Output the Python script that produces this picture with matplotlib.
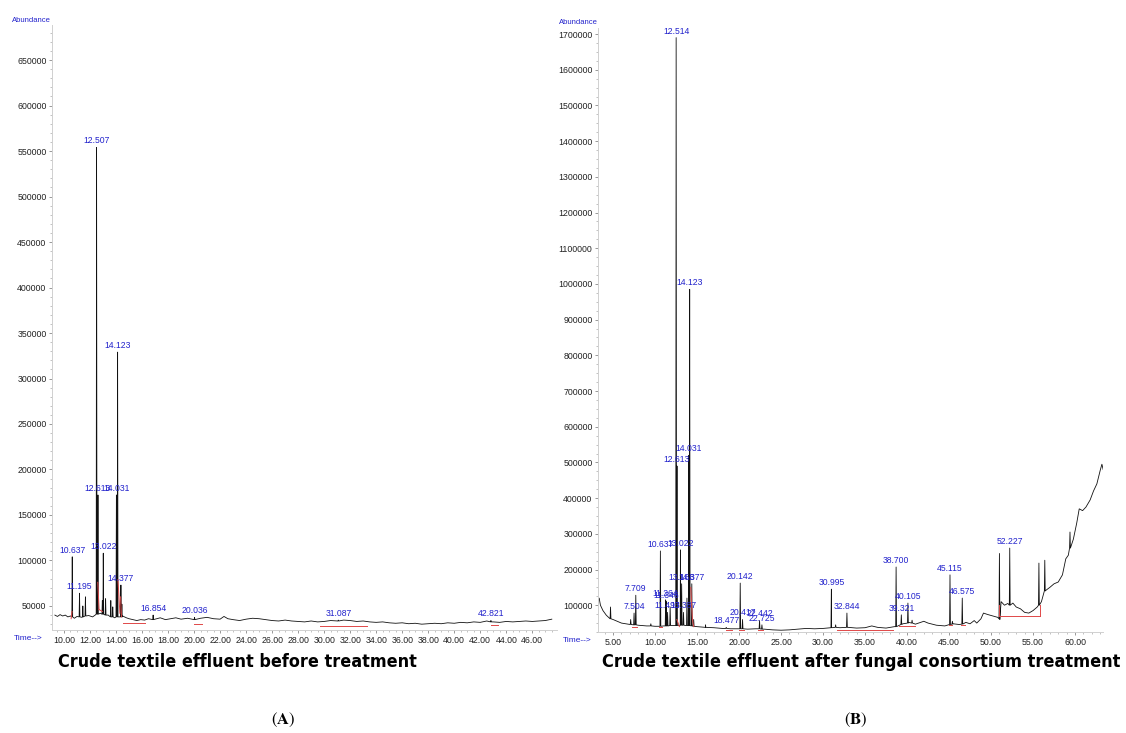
import numpy as np
import matplotlib
matplotlib.use("Agg")
import matplotlib.pyplot as plt
from matplotlib.ticker import MultipleLocator, FormatStrFormatter

plt.rcParams['font.family'] = ['Liberation Sans', 'DejaVu Sans']
plt.rcParams['mathtext.fontset'] = 'stix'

W, H = 1126, 733
BLUE = '#2222cc'
RED = '#e04848'

# ---------------- panel A: before treatment ----------------
a_base_t = [9.3, 9.5, 9.7, 9.9, 10.1, 10.3, 10.5, 10.8, 11.0, 11.4, 11.9, 12.2, 12.4,
            12.8, 13.0, 13.4, 13.7, 13.9, 14.5, 14.8, 15.0, 15.3, 15.6, 15.9, 16.2,
            16.5, 17.0, 17.4, 17.8, 18.2, 18.6, 19.0, 19.5, 20.0, 20.5, 21.0, 21.5,
            22.0, 22.3, 22.6, 23.0, 23.5, 24.0, 24.5, 25.0, 25.5, 26.0, 26.5, 27.0,
            27.5, 28.0, 28.5, 29.0, 29.5, 30.0, 30.5, 31.0, 31.5, 32.0, 32.5, 33.0,
            33.5, 34.0, 34.5, 35.0, 35.5, 36.0, 36.5, 37.0, 37.5, 38.0, 38.5, 39.0,
            39.5, 40.0, 40.5, 41.0, 41.5, 42.0, 42.5, 43.0, 43.5, 44.0, 44.5, 45.0,
            45.5, 46.0, 46.5, 47.0, 47.5]
a_base_v = [40000, 38500, 40500, 39000, 40000, 38000, 39000, 36500, 38500, 37500, 39500,
            38000, 40000, 42000, 41000, 40000, 38000, 37000, 39000, 37000, 36000, 35000,
            34000, 35000, 34500, 36000, 35500, 37000, 35000, 36000, 37000, 35500, 36500,
            35000, 36500, 37500, 36000, 35500, 38500, 36000, 35000, 34000, 35500, 36500,
            36000, 35000, 34000, 33500, 34500, 33500, 33000, 32500, 33500, 32500, 33000,
            34000, 33500, 34500, 34000, 33000, 33500, 32500, 32000, 32500, 31500, 31000,
            31500, 30500, 31000, 30000, 30500, 31000, 30500, 31500, 31000, 32000, 31500,
            32500, 32000, 33500, 32500, 32000, 33000, 32500, 33000, 33500, 33000, 33500,
            34000, 35500]
a_peak_t = [10.637, 11.195, 11.45, 11.65, 12.507, 12.613, 12.95, 13.022, 13.2, 13.6,
            13.75, 14.031, 14.123, 14.377, 14.45, 16.854, 20.036, 31.087, 42.821]
a_peak_h = [104000, 64000, 50000, 60000, 554000, 172000, 56000, 108000, 58000, 56000,
            49000, 172000, 329000, 73000, 52000, 40000, 37500, 34500, 34000]
a_peak_b = [38000, 38000, 38000, 39000, 41000, 41000, 41000, 41000, 40000, 38000,
            38000, 38000, 38000, 38000, 38000, 35000, 35000, 33500, 32500]
a_labels = ['10.637', '11.195', '', '', '12.507', '12.613', '', '13.022', '', '',
            '', '14.031', '14.123', '14.377', '', '16.854', '20.036', '31.087', '42.821']
a_red = [(10.55, 36000, 10.62, 44000), (12.6, 76000, 12.7, 46000), (12.7, 46000, 12.95, 44000),
         (14.15, 79000, 14.3, 42000), (14.35, 60000, 14.42, 38000),
         (14.5, 31000, 16.2, 31000), (20.0, 30000, 20.6, 30000),
         (29.7, 27500, 33.3, 27500), (42.8, 29500, 43.4, 29500)]

# ---------------- panel B: after fungal treatment ----------------
b_base_t = [3.25, 3.35, 3.5, 3.8, 4.2, 4.6, 5.0, 5.5, 6.0, 6.5, 7.0, 8.0, 9.0, 10.0,
            11.0, 12.0, 13.0, 14.0, 15.0, 16.0, 17.0, 18.0, 19.0, 20.0, 21.0, 22.0,
            23.0, 24.0, 25.0, 26.0, 27.0, 28.0, 29.0, 30.0, 31.0, 32.0, 33.0, 34.0,
            35.0, 35.8, 36.5, 37.5, 38.5, 39.5, 40.2, 41.0, 42.0, 42.5, 43.5, 44.5,
            45.5, 46.2, 47.0, 47.5, 48.0, 48.3, 48.8, 49.1, 49.6, 50.2, 50.8, 51.05,
            51.2, 51.6, 52.0, 52.6, 53.0, 53.5, 54.0, 54.5, 55.0, 55.5, 56.0, 56.6,
            57.0, 57.5, 58.0, 58.5, 58.9, 59.2, 59.8, 60.2, 60.5, 60.9, 61.3, 61.8,
            62.2, 62.6, 63.0, 63.2, 63.35]
b_base_v = [115000, 120000, 100000, 85000, 72000, 63000, 60000, 55000, 50000, 48000,
            46000, 44000, 42000, 41000, 42000, 43000, 44000, 43000, 40000, 38000, 37000,
            35000, 34000, 34000, 33000, 34000, 33000, 31000, 30000, 31000, 33000, 35000,
            34000, 35000, 38000, 37000, 38000, 36000, 37000, 42000, 38000, 36000, 40000,
            48000, 52000, 47000, 55000, 50000, 44000, 42000, 48000, 46000, 52000, 48000,
            57000, 50000, 62000, 78000, 74000, 70000, 66000, 60000, 110000, 100000,
            105000, 106000, 95000, 90000, 80000, 78000, 85000, 95000, 110000, 143000,
            150000, 160000, 165000, 185000, 230000, 240000, 285000, 330000, 370000,
            365000, 375000, 395000, 420000, 440000, 478000, 495000, 480000]
b_peak_t = [4.7, 7.1, 7.504, 7.709, 9.5, 10.637, 11.264, 11.346, 11.493, 11.8, 12.514,
            12.613, 13.022, 13.168, 13.387, 13.8, 14.031, 14.123, 14.377, 14.6, 16.0,
            18.477, 20.142, 20.417, 22.442, 22.725, 30.995, 31.5, 32.844, 38.700,
            39.321, 40.105, 40.6, 45.115, 45.4, 46.575, 51.0, 52.227, 55.7, 56.4, 59.4]
b_peak_h = [95000, 60000, 78000, 128000, 48000, 252000, 115000, 110000, 80000, 95000,
            1690000, 490000, 255000, 160000, 80000, 120000, 520000, 985000, 160000, 60000,
            45000, 38000, 162000, 60000, 57000, 45000, 145000, 45000, 78000, 207000,
            73000, 106000, 58000, 185000, 55000, 120000, 245000, 260000, 218000, 226000,
            305000]
b_peak_b = [62000, 46000, 45000, 45000, 42000, 41000, 42000, 42000, 42000, 43000, 43000,
            43000, 44000, 44000, 44000, 43000, 43000, 43000, 42000, 41000, 38000, 35000,
            34000, 34000, 34000, 33000, 37000, 38000, 38000, 40000, 46000, 50000, 50000,
            46000, 47000, 47000, 62000, 100000, 100000, 140000, 260000]
b_labels = ['', '', '7.504', '7.709', '', '10.637', '11.264', '11.346', '11.493', '',
            '12.514', '12.613', '13.022', '13.168', '13.387', '', '14.031', '14.123',
            '14.377', '', '', '18.477', '20.142', '20.417', '22.442', '22.725', '30.995',
            '', '32.844', '38.700', '39.321', '40.105', '', '45.115', '', '46.575', '',
            '52.227', '', '', '']
b_red = [(7.3, 40000, 7.9, 40000), (10.5, 38000, 10.8, 38000), (12.6, 60000, 12.9, 40000),
         (14.25, 150000, 14.45, 60000), (14.45, 60000, 14.6, 40000), (18.5, 32000, 19.2, 32000),
         (20.0, 31000, 20.6, 31000), (22.3, 31000, 22.9, 31000), (31.7, 31000, 38.3, 31000),
         (39.0, 42000, 41.0, 42000), (45.0, 44000, 45.3, 44000), (46.4, 45000, 46.9, 45000),
         (51.0, 100000, 51.0, 70000), (51.0, 70000, 55.8, 70000), (55.8, 70000, 55.8, 100000)]


def build_trace(bt, bv, pt, ph, pb, hw):
    t = list(bt)
    v = list(bv)
    for x, h, b in zip(pt, ph, pb):
        t += [x - hw, x, x + hw]
        v += [b, h, b]
    order = np.argsort(t, kind='stable')
    return np.array(t)[order], np.array(v)[order]


def style_axes(ax, xmaj, xmin, ymaj, ymin):
    for s in ['top', 'right']:
        ax.spines[s].set_visible(False)
    for s in ['left', 'bottom']:
        ax.spines[s].set_color('#d0d0d0')
        ax.spines[s].set_linewidth(0.7)
    ax.xaxis.set_major_locator(MultipleLocator(xmaj))
    ax.xaxis.set_minor_locator(MultipleLocator(xmin))
    ax.xaxis.set_major_formatter(FormatStrFormatter('%.2f'))
    ax.yaxis.set_major_locator(MultipleLocator(ymaj))
    ax.yaxis.set_minor_locator(MultipleLocator(ymin))
    ax.yaxis.set_major_formatter(FormatStrFormatter('%d'))
    ax.tick_params(which='major', length=2.5, width=0.6, color='#888888',
                   labelsize=6.3, labelcolor='#222222', pad=1.5)
    ax.tick_params(which='minor', length=1.5, width=0.5, color='#aaaaaa')


def draw_panel(ax, bt, bv, pt, ph, pb, labels, red, hw):
    t, v = build_trace(bt, bv, pt, ph, pb, hw)
    ax.plot(t, v, color='#111111', lw=0.6)
    for x0, y0, x1, y1 in red:
        ax.plot([x0, x1], [y0, y1], color=RED, lw=0.7)
    for x, h, lab in zip(pt, ph, labels):
        if lab:
            ax.annotate(lab, (x, h), xytext=(0, 1.5), textcoords='offset points',
                        ha='center', va='bottom', fontsize=6.2, color=BLUE)


fig = plt.figure(figsize=(W / 100, H / 100), dpi=100)

axA = fig.add_axes([52 / W, 1 - 630 / H, 505 / W, 605 / H])
draw_panel(axA, a_base_t, a_base_v, a_peak_t, a_peak_h, a_peak_b, a_labels, a_red, 0.03)
axA.set_xlim(9.08, 47.9)
axA.set_ylim(23600, 688500)
style_axes(axA, 2, 0.5, 50000, 10000)

axB = fig.add_axes([598 / W, 1 - 632 / H, 505 / W, 604 / H])
draw_panel(axB, b_base_t, b_base_v, b_peak_t, b_peak_h, b_peak_b, b_labels, b_red, 0.05)
axB.set_xlim(3.21, 63.33)
axB.set_ylim(25000, 1717000)
style_axes(axB, 5, 1, 100000, 25000)

# axis captions
fig.text(31 / W, 1 - 20 / H, 'Abundance', fontsize=5.5, color=BLUE, ha='center', va='center')
fig.text(28 / W, 1 - 638 / H, 'Time-->', fontsize=6, color=BLUE, ha='center', va='center')
fig.text(578 / W, 1 - 23 / H, 'Abundance', fontsize=5.5, color=BLUE, ha='center', va='center')
fig.text(577 / W, 1 - 641 / H, 'Time-->', fontsize=6, color=BLUE, ha='center', va='center')

# panel titles: condensed bold look; squeeze the size until the width matches
title_font = ['Liberation Sans Narrow', 'DejaVu Sans']
titles = [(237, 'Crude textile effluent before treatment', 360),
          (861, 'Crude textile effluent after fungal consortium treatment', 520)]
fig.canvas.draw()
renderer = fig.canvas.get_renderer()
for cx, txt, target in titles:
    t = fig.text(cx / W, 1 - 662 / H, txt, family=title_font, fontweight='bold',
                 fontstretch='condensed', fontsize=14, ha='center', va='center')
    w = t.get_window_extent(renderer).width
    if w > target:
        t.set_fontsize(14 * target / w)

fig.text(283 / W, 1 - 720 / H, r'($\mathbf{A}$)', family='STIXGeneral', fontsize=12,
         ha='center', va='center')
fig.text(856 / W, 1 - 720 / H, r'($\mathbf{B}$)', family='STIXGeneral', fontsize=12,
         ha='center', va='center')

fig.savefig('out.png', dpi=100, facecolor='white')
